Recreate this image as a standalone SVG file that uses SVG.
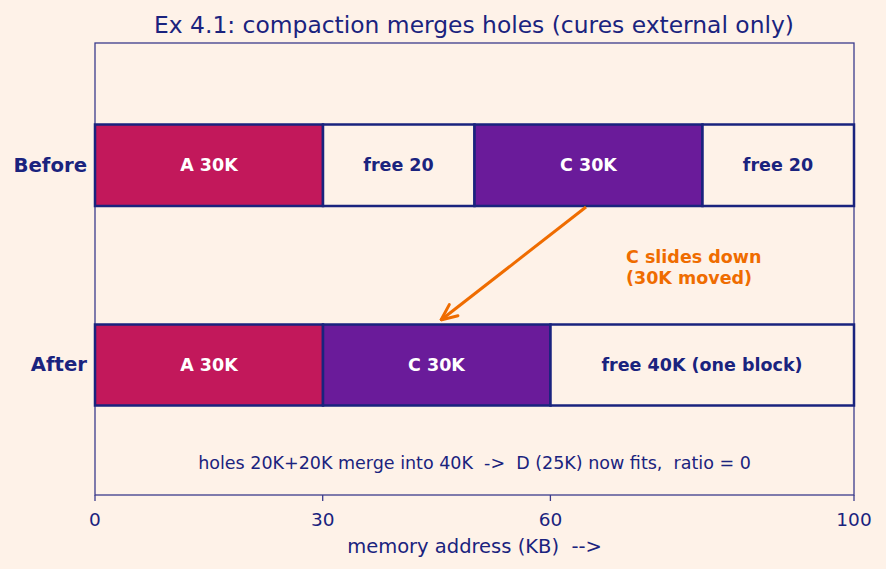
<svg xmlns="http://www.w3.org/2000/svg" width="886" height="569" viewBox="0 0 886 569">
<defs>
<style>
text{font-family:"DejaVu Sans","Liberation Sans",sans-serif;fill:#1a237e}
.bar{stroke:#1a237e;stroke-width:2.5}
.lbl{font-weight:bold;font-size:17.5px;text-anchor:middle}
.w{fill:#ffffff}
.row{font-weight:bold;font-size:19.7px;text-anchor:end}
.tick{font-size:18.5px;text-anchor:middle}
.spine{stroke:#3b3b8c;stroke-width:1.3;fill:none}
</style>
<marker id="ah" viewBox="0 0 20 20" refX="19" refY="10" markerWidth="20" markerHeight="20" markerUnits="userSpaceOnUse" orient="auto">
<path d="M3,3 L19,10 L3,17" fill="none" stroke="#ef6c00" stroke-width="3" stroke-linecap="round" stroke-linejoin="miter"/>
</marker>
</defs>
<rect x="0" y="0" width="886" height="569" fill="#fef2e8"/>
<text x="474" y="32.5" font-size="23.4px" text-anchor="middle">Ex 4.1: compaction merges holes (cures external only)</text>
<rect class="spine" x="95" y="43" width="759" height="452"/>
<g id="before">
<rect id="before-A" class="bar" x="95" y="124.5" width="228" height="81.5" fill="#c2185b"/>
<rect id="before-free1" class="bar" x="323" y="124.5" width="151.5" height="81.5" fill="#fef2e8"/>
<rect id="before-C" class="bar" x="474.5" y="124.5" width="228" height="81.5" fill="#6a1b9a"/>
<rect id="before-free2" class="bar" x="702.5" y="124.5" width="151.5" height="81.5" fill="#fef2e8"/>
<text class="lbl w" x="209" y="171">A 30K</text>
<text class="lbl" x="398.5" y="171">free 20</text>
<text class="lbl w" x="588.5" y="171">C 30K</text>
<text class="lbl" x="778" y="171">free 20</text>
<text class="row" x="87" y="171.5">Before</text>
</g>
<g id="after">
<rect id="after-A" class="bar" x="95" y="324.5" width="228" height="81" fill="#c2185b"/>
<rect id="after-C" class="bar" x="323" y="324.5" width="227.5" height="81" fill="#6a1b9a"/>
<rect id="after-free" class="bar" x="550.5" y="324.5" width="303.5" height="81" fill="#fef2e8"/>
<text class="lbl w" x="209" y="370.5">A 30K</text>
<text class="lbl w" x="436.5" y="370.5">C 30K</text>
<text class="lbl" x="702" y="370.5">free 40K (one block)</text>
<text class="row" x="87" y="371">After</text>
</g>
<g id="connectors">
<line x1="586" y1="207" x2="441" y2="320" stroke="#ef6c00" stroke-width="3" marker-end="url(#ah)"/>
</g>
<g id="annotation">
<text x="626" y="263" font-size="17.5px" font-weight="bold" style="fill:#ef6c00">C slides down</text>
<text x="626" y="284" font-size="17.5px" font-weight="bold" style="fill:#ef6c00">(30K moved)</text>
</g>
<text x="474.5" y="469" font-size="17.5px" text-anchor="middle" xml:space="preserve">holes 20K+20K merge into 40K  -&gt;  D (25K) now fits,  ratio = 0</text>
<g id="axis">
<g stroke="#3b3b8c" stroke-width="1.3">
<line x1="95" y1="495" x2="95" y2="501"/>
<line x1="322.7" y1="495" x2="322.7" y2="501"/>
<line x1="550.4" y1="495" x2="550.4" y2="501"/>
<line x1="854" y1="495" x2="854" y2="501"/>
</g>
<text class="tick" x="95" y="525.5">0</text>
<text class="tick" x="322.7" y="525.5">30</text>
<text class="tick" x="550.4" y="525.5">60</text>
<text class="tick" x="854" y="525.5">100</text>
<text x="474.5" y="553" font-size="19.5px" text-anchor="middle" xml:space="preserve">memory address (KB)  --&gt;</text>
</g>
</svg>
